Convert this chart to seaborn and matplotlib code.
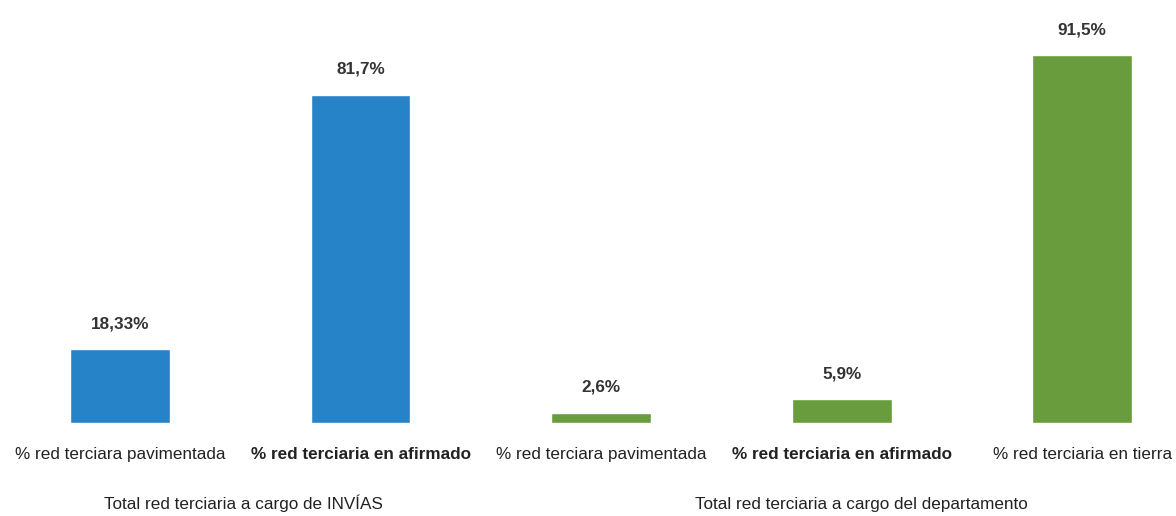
import matplotlib
matplotlib.use("Agg")
import matplotlib.pyplot as plt
import matplotlib.transforms as mtransforms
import seaborn as sns
import pandas as pd

# data
categories = ['% red terciara pavimentada', '% red terciaria en afirmado',
              '% red terciara pavimentada', '% red terciaria en afirmado',
              '% red terciaria en tierra']
values = [18.33, 81.7, 2.6, 5.9, 91.5]
value_labels = ['18,33%', '81,7%', '2,6%', '5,9%', '91,5%']
groups = ['INVIAS', 'INVIAS', 'Depto', 'Depto', 'Depto']
group_titles = ['Total red terciaria a cargo de INVÍAS',
                'Total red terciaria a cargo del departamento']
bold_ticks = [False, True, False, True, False]

sns.set_style('white')
plt.rcParams['font.family'] = ['Liberation Sans Narrow', 'Liberation Sans', 'DejaVu Sans']

df = pd.DataFrame({'pos': [str(i) for i in range(len(values))],
                   'value': values, 'group': groups})

fig = plt.figure(figsize=(11.76, 5.16), dpi=100)
ax = fig.add_axes([0, 0.180, 1, 0.779])
sns.barplot(data=df, x='pos', y='value', hue='group',
            palette={'INVIAS': '#2783C8', 'Depto': '#689C3D'},
            saturation=1, dodge=False, width=0.415, legend=False, ax=ax)

ax.set_xlim(-0.499, 4.39)
ax.set_ylim(0, 100)
ax.set_yticks([])
ax.set_xlabel('')
ax.set_ylabel('')
sns.despine(ax=ax, left=True, bottom=True)

fs = 12.3
ax.set_xticks(range(len(categories)))
ax.set_xticklabels(categories, fontsize=fs, color='#222222')
for lbl, b in zip(ax.get_xticklabels(), bold_ticks):
    if b:
        lbl.set_fontweight('bold')
ax.tick_params(axis='x', length=0, pad=17)

for i, (v, t) in enumerate(zip(values, value_labels)):
    ax.annotate(t, (i, v), xytext=(0, 13), textcoords='offset points',
                ha='center', va='bottom', fontsize=fs, fontweight='bold',
                color='#333333')

trans = mtransforms.blended_transform_factory(ax.transData, fig.transFigure)
ax.text(0.515, 0.008, group_titles[0], transform=trans, ha='center', va='bottom',
        fontsize=fs, color='#222222')
ax.text(3.08, 0.008, group_titles[1], transform=trans, ha='center', va='bottom',
        fontsize=fs, color='#222222')

fig.savefig('out.png', dpi=100)
